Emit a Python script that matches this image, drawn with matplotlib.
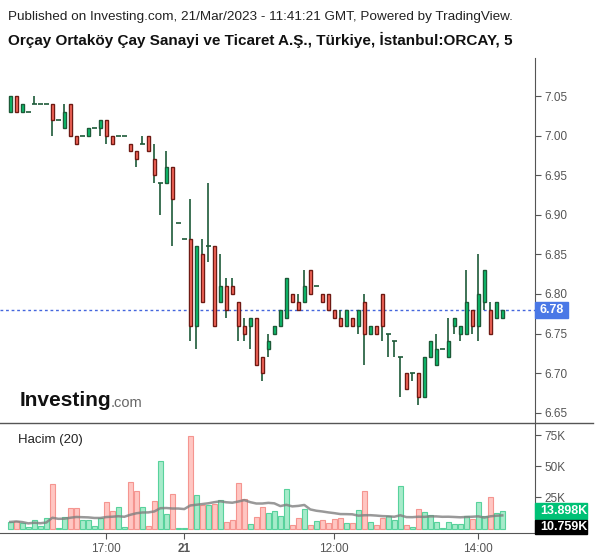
import matplotlib
matplotlib.use("Agg")
import matplotlib.pyplot as plt
import numpy as np
import pandas as pd
from matplotlib.lines import Line2D
from matplotlib.patches import Rectangle

plt.rcParams['font.family'] = ['Liberation Sans', 'DejaVu Sans']

# 5-minute candles, ORCAY
opens = [7.03, 7.05, 7.03, 7.03, 7.04, 7.04, 7.04, 7.04, 7.02, 7.01,
         7.04, 7.00, 7.00, 7.00, 7.01, 7.01, 7.02, 7.00, 7.00, 7.00,
         6.99, 6.98, 6.99, 7.00, 6.97, 6.94, 6.94, 6.96, 6.89, 6.87,
         6.87, 6.76, 6.85, 6.86, 6.86, 6.79, 6.81, 6.81, 6.79, 6.76,
         6.76, 6.77, 6.72, 6.73, 6.75, 6.76, 6.77, 6.80, 6.79, 6.79,
         6.83, 6.81, 6.80, 6.80, 6.78, 6.77, 6.76, 6.77, 6.76, 6.79,
         6.75, 6.76, 6.80, 6.75, 6.74, 6.72, 6.70, 6.70, 6.70, 6.67,
         6.72, 6.71, 6.73, 6.72, 6.76, 6.75, 6.75, 6.78, 6.76, 6.79,
         6.78, 6.77, 6.77]
highs = [7.05, 7.05, 7.04, 7.03, 7.05, 7.04, 7.04, 7.04, 7.02, 7.04,
         7.04, 7.00, 7.00, 7.01, 7.01, 7.02, 7.02, 7.00, 7.00, 7.00,
         6.99, 6.98, 7.00, 7.00, 6.99, 6.94, 6.98, 6.96, 6.89, 6.87,
         6.92, 6.86, 6.87, 6.94, 6.86, 6.85, 6.82, 6.82, 6.79, 6.77,
         6.77, 6.77, 6.72, 6.75, 6.76, 6.78, 6.82, 6.80, 6.80, 6.83,
         6.83, 6.81, 6.80, 6.80, 6.78, 6.78, 6.78, 6.77, 6.78, 6.80,
         6.76, 6.76, 6.80, 6.75, 6.74, 6.72, 6.70, 6.70, 6.70, 6.72,
         6.74, 6.75, 6.73, 6.77, 6.77, 6.76, 6.83, 6.78, 6.85, 6.83,
         6.79, 6.79, 6.78]
lows = [7.03, 7.03, 7.03, 7.03, 7.04, 7.04, 7.04, 7.00, 7.02, 7.01,
        7.00, 6.99, 7.00, 7.00, 7.01, 7.00, 6.99, 6.99, 7.00, 7.00,
        6.98, 6.96, 6.99, 6.98, 6.94, 6.90, 6.94, 6.86, 6.89, 6.87,
        6.74, 6.73, 6.79, 6.84, 6.76, 6.79, 6.77, 6.80, 6.74, 6.74,
        6.73, 6.71, 6.69, 6.72, 6.75, 6.76, 6.77, 6.79, 6.78, 6.79,
        6.80, 6.81, 6.79, 6.78, 6.77, 6.76, 6.76, 6.76, 6.75, 6.71,
        6.75, 6.75, 6.74, 6.72, 6.72, 6.67, 6.68, 6.69, 6.66, 6.67,
        6.72, 6.71, 6.73, 6.72, 6.75, 6.74, 6.75, 6.75, 6.74, 6.78,
        6.75, 6.77, 6.77]
closes = [7.05, 7.03, 7.04, 7.03, 7.04, 7.04, 7.04, 7.02, 7.02, 7.03,
          7.00, 6.99, 7.00, 7.01, 7.01, 7.02, 7.00, 6.99, 7.00, 7.00,
          6.98, 6.97, 6.99, 6.98, 6.95, 6.94, 6.96, 6.92, 6.89, 6.87,
          6.76, 6.86, 6.79, 6.86, 6.76, 6.81, 6.78, 6.80, 6.76, 6.75,
          6.77, 6.71, 6.70, 6.74, 6.76, 6.78, 6.82, 6.79, 6.78, 6.81,
          6.80, 6.81, 6.79, 6.78, 6.77, 6.76, 6.78, 6.76, 6.78, 6.75,
          6.76, 6.75, 6.76, 6.75, 6.74, 6.72, 6.68, 6.70, 6.67, 6.72,
          6.74, 6.73, 6.73, 6.74, 6.77, 6.76, 6.79, 6.76, 6.80, 6.83,
          6.75, 6.79, 6.78]
# volume in thousands
volume = [5.4, 6.2, 4.3, 1.1, 7.0, 2.2, 8.3, 35.8, 0.8, 9.1,
          16.3, 16.3, 7.0, 7.0, 2.2, 8.3, 21.4, 14.2, 17.1, 1.1,
          37.2, 30.5, 17.1, 2.2, 22.2, 54.2, 11.5, 27.8, 0.4, 0.6,
          74.3, 26.8, 19.0, 19.0, 19.8, 23.0, 5.4, 7.0, 36.6, 23.8,
          3.8, 9.1, 17.1, 12.8, 14.4, 10.2, 31.8, 2.7, 8.3, 15.5,
          2.7, 5.9, 7.0, 4.3, 7.8, 8.3, 4.3, 4.3, 15.0, 30.0,
          5.1, 2.7, 8.6, 9.9, 7.0, 34.0, 2.7, 1.1, 15.5, 13.4,
          10.7, 5.4, 0.6, 5.4, 3.5, 3.5, 9.9, 7.8, 21.4, 9.9,
          25.2, 12.3, 13.9]

time_ticks = [16, 29, 54, 78]
time_labels = ["17:00", "21", "12:00", "14:00"]
price_ticks = [6.65, 6.70, 6.75, 6.80, 6.85, 6.90, 6.95, 7.00, 7.05]
vol_ticks = [25, 50, 75]
last_price = 6.78

o = np.array(opens); h = np.array(highs); l = np.array(lows); c = np.array(closes)
v = np.array(volume)
idx = np.arange(len(c))
vol_ma = pd.Series(v).rolling(20, min_periods=1).mean()

W, H = 600, 558
fig = plt.figure(figsize=(6, 5.58), dpi=100)


def box(x0, y0, x1, y1):
    return [x0 / W, 1 - y1 / H, (x1 - x0) / W, (y1 - y0) / H]


def label(x0, y0, x1, y1, text, bg):
    fig.patches.append(Rectangle((x0 / W, 1 - y1 / H), (x1 - x0) / W, (y1 - y0) / H,
                                 transform=fig.transFigure, color=bg, zorder=5))
    fig.text((x0 + 5) / W, 1 - (y0 + y1) / 2 / H, text, color="white", fontsize=9,
             fontweight="bold", va="center", ha="left", zorder=6)


ax = fig.add_axes(box(0, 58, 535, 423))
axv = fig.add_axes(box(0, 423, 535, 533))

GREEN = "#0ac46f"
RED = "#ff6b5e"
WICK = "#1d5a38"
axis_col = "#555555"

# wicks
ax.vlines(idx, l, h, color=WICK, lw=1.2, zorder=1)
# bodies
for i in idx:
    if o[i] == c[i]:
        ax.hlines(o[i], i - 0.38, i + 0.38, color=WICK, lw=1.2, zorder=2)
    elif c[i] > o[i]:
        ax.bar(i, c[i] - o[i], bottom=o[i], width=0.55, color=GREEN,
               edgecolor="#1d5a38", lw=1, zorder=2)
    else:
        ax.bar(i, o[i] - c[i], bottom=c[i], width=0.55, color=RED,
               edgecolor="#6e1a14", lw=1, zorder=2)

ax.axhline(last_price, color="#4466dd", lw=1, ls=(0, (2, 2)), zorder=0)

ax.set_xlim(-1.72, 87.45)
ax.set_ylim(6.637, 7.098)
ax.yaxis.tick_right()
ax.set_yticks(price_ticks)
ax.set_yticklabels([f"{p:.2f}" for p in price_ticks])
ax.tick_params(axis="y", colors=axis_col, labelsize=8.5, length=4, pad=3)
ax.set_xticks([])
for s in ["top", "left", "bottom"]:
    ax.spines[s].set_visible(False)
ax.spines["right"].set_color(axis_col)

# volume
vcol = ["#ffc6c2" if c[i] < o[i] else "#a6ebca" for i in idx]
ecol = ["#f59590" if c[i] < o[i] else "#58d29c" for i in idx]
axv.bar(idx, v, width=0.85, color=vcol, edgecolor=ecol, lw=0.8)
axv.plot(idx, vol_ma, color="#808080", lw=1.8, alpha=0.8)
axv.set_xlim(-1.72, 87.45)
axv.set_ylim(-3.45, 84.7)
axv.yaxis.tick_right()
axv.set_yticks(vol_ticks)
axv.set_yticklabels([f"{t}K" for t in vol_ticks])
axv.tick_params(axis="y", colors=axis_col, labelsize=8.5, length=4, pad=3)
axv.set_xticks(time_ticks)
axv.set_xticklabels(time_labels)
axv.tick_params(axis="x", colors=axis_col, labelsize=8.5, length=4, pad=3)
axv.get_xticklabels()[1].set_fontweight("bold")
axv.spines["top"].set_visible(False)
axv.spines["left"].set_visible(False)
axv.spines["right"].set_color(axis_col)
axv.spines["bottom"].set_color(axis_col)

# pane separator
fig.add_artist(Line2D([0, 593 / W], [1 - 423 / H, 1 - 423 / H], color=axis_col, lw=1,
                      transform=fig.transFigure))

# header
fig.text(8 / W, 1 - 17 / H, "Published on Investing.com, 21/Mar/2023 - 11:41:21 GMT, Powered by TradingView.",
         fontsize=9.7, color="#222222", va="center")
fig.text(8 / W, 1 - 40 / H, "Orçay Ortaköy Çay Sanayi ve Ticaret A.Ş., Türkiye, İstanbul:ORCAY, 5",
         fontsize=11, fontweight="bold", color="#111111", va="center")

# logo
fig.text(20 / W, 1 - 401 / H, "Investing", fontsize=15, fontweight="bold", color="#111111", va="center")
fig.text(111 / W, 1 - 403 / H, ".com", fontsize=10.5, color="#666666", va="center")

fig.text(18 / W, 1 - 440 / H, "Hacim (20)", fontsize=9.5, color="#222222", va="center")

# value labels
label(535, 302, 568, 318, "6.78", "#4a78e6")
label(535, 503, 587, 519, "13.898K", "#00c176")
label(535, 520, 587, 534, "10.759K", "#000000")

fig.savefig("out.png", dpi=100)
